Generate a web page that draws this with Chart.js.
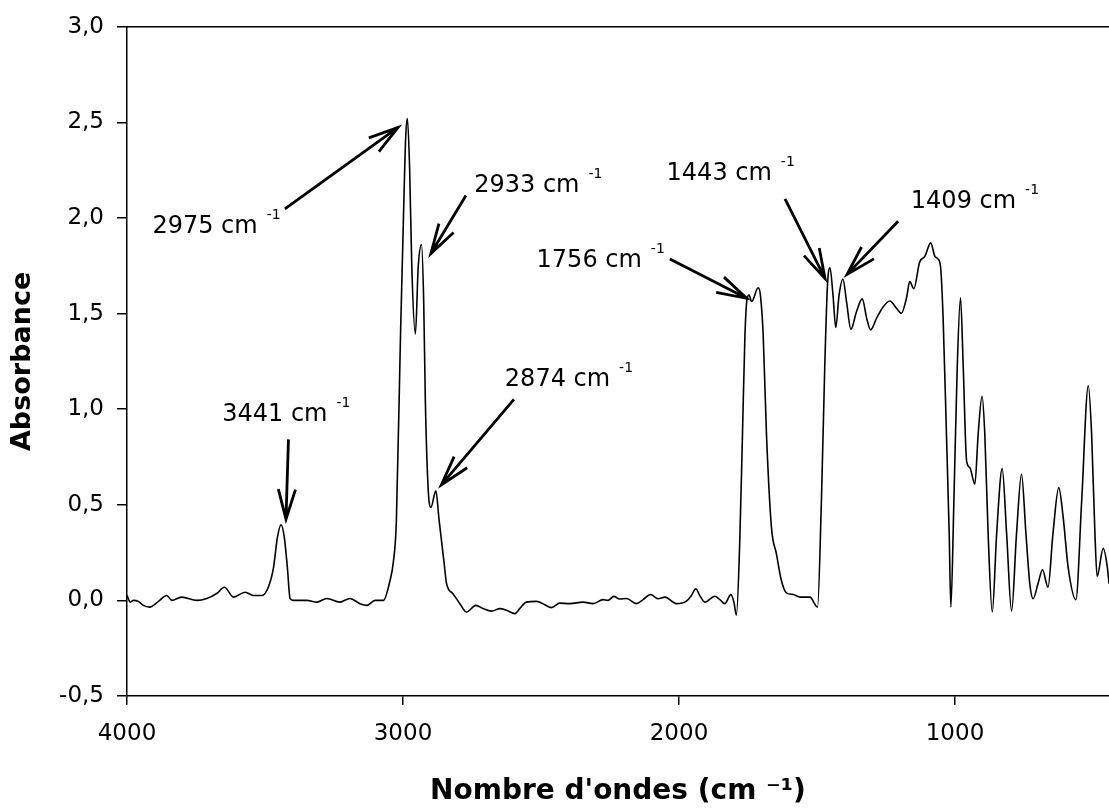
<!DOCTYPE html>
<html>
<head>
<meta charset="utf-8">
<title>Spectre IR</title>
<script src="https://cdn.jsdelivr.net/npm/chart.js@4.4.1/dist/chart.umd.min.js"></script>
<style>
    html, body { margin: 0; padding: 0; background: #fff; }
    #wrap { width: 1109px; height: 809px; }
</style>
</head>
<body>
<div id="wrap"><canvas id="spectre" width="1109" height="809"></canvas></div>
<script>
// Spectre IR : nombre d'ondes (cm-1) et absorbance
const wavenumbers = [
    4000, 3988, 3977, 3959, 3941, 3918, 3886, 3856, 3838,
    3802, 3747, 3711, 3675, 3647, 3614, 3572, 3542, 3511, 3488,
    3469, 3455, 3442, 3430, 3419, 3409, 3397, 3349, 3312, 3276,
    3229, 3192, 3156, 3131, 3101, 3071, 3047, 3035, 3024, 3009,
    2997, 2990, 2984, 2976, 2968, 2955, 2945, 2933, 2925, 2919,
    2909, 2899, 2881, 2869, 2852, 2842, 2819, 2794, 2770, 2736,
    2710, 2679, 2649, 2625, 2595, 2577, 2553, 2516, 2486, 2462,
    2432, 2396, 2348, 2311, 2275, 2257, 2236, 2215, 2190, 2154,
    2130, 2103, 2076, 2051, 2009, 1973, 1955, 1939, 1925, 1906,
    1870, 1852, 1834, 1812, 1801, 1792, 1780, 1770, 1761, 1753,
    1746, 1737, 1713, 1705, 1695, 1683, 1665, 1647, 1629, 1610,
    1586, 1562, 1526, 1498, 1484, 1472, 1462, 1453, 1442, 1432,
    1420, 1406, 1393, 1377, 1357, 1336, 1320, 1306, 1284, 1260,
    1236, 1212, 1194, 1176, 1164, 1149, 1128, 1109, 1088, 1073,
    1061, 1052, 1043, 1031, 1021, 1015, 1004, 992, 980, 970,
    958, 946, 928, 916, 902, 892, 880, 865, 849, 829,
    813, 795, 777, 759, 743, 729, 717, 699, 683, 663,
    645, 624, 608, 590, 562, 541, 517, 505, 493, 485,
    463, 448, 442
];
const absorbance = [
    0.026, -0.009, 0, -0.005, -0.026, -0.035, -0.005, 0.026, 0,
    0.017, 0, 0.010, 0.036, 0.069, 0.017, 0.043, 0.026, 0.026, 0.069,
    0.173, 0.330, 0.396, 0.330, 0.173, 0.009, 0, 0, -0.009, 0.010,
    -0.009, 0.010, -0.017, -0.026, 0, 0, 0.104, 0.20, 0.417, 1.39,
    2.08, 2.43, 2.52, 2.26, 1.74, 1.394, 1.74, 1.861, 1.563, 1.042,
    0.59, 0.486, 0.573, 0.417, 0.208, 0.087, 0.035, -0.017, -0.061, -0.026,
    -0.043, -0.056, -0.043, -0.052, -0.069, -0.043, -0.009, -0.005, -0.023, -0.038,
    -0.014, -0.017, -0.009, -0.017, 0.004, 0, 0.021, 0.007, 0.010, -0.017,
    0.004, 0.031, 0.009, 0.017, -0.017, -0.004, 0.026, 0.061, 0.026, -0.009,
    0.022, 0.004, -0.017, 0.030, -0.009, -0.078, 0.30, 0.868, 1.389, 1.580,
    1.597, 1.563, 1.635, 1.597, 1.389, 0.868, 0.382, 0.243, 0.104, 0.038,
    0.031, 0.017, 0.017, -0.035, 0.521, 1.215, 1.649, 1.740, 1.597, 1.427,
    1.597, 1.681, 1.563, 1.418, 1.510, 1.577, 1.476, 1.415, 1.476, 1.536,
    1.566, 1.528, 1.502, 1.580, 1.667, 1.63, 1.77, 1.80, 1.87, 1.80,
    1.785, 1.74, 1.475, 0.87, 0.35, -0.035, 0.52, 1.215, 1.583, 1.215,
    0.73, 0.694, 0.608, 0.87, 1.068, 0.87, 0.35, -0.061, 0.35, 0.689,
    0.35, -0.056, 0.35, 0.66, 0.35, 0.088, 0.009, 0.088, 0.16, 0.069,
    0.35, 0.59, 0.434, 0.173, 0.004, 0.52, 1.123, 0.87, 0.35, 0.125,
    0.272, 0.173, 0.088
];

// graduations
const xTicks = [4000, 3000, 2000, 1000];
const yTicks = [-0.5, 0, 0.5, 1.0, 1.5, 2.0, 2.5, 3.0];
const yTickLabels = ['-0,5', '0,0', '0,5', '1,0', '1,5', '2,0', '2,5', '3,0'];

// annotations des pics (texte + flèche), en unités des axes
const peakLabels = ['3441', '2975', '2933', '2874', '1756', '1443', '1409'];
const labelWn = [3655, 3908, 2742, 2631, 2516, 2045, 1160];
const labelAbs = [0.938, 1.923, 2.135, 1.120, 1.745, 2.198, 2.052];
const arrowFromWn = [3415, 3428, 2772, 2598, 2033, 1616, 1206];
const arrowFromAbs = [0.842, 2.048, 2.118, 1.051, 1.785, 2.100, 1.983];
const arrowToWn = [3424, 3018, 2899, 2861, 1755, 1471, 1391];
const arrowToAbs = [0.425, 2.474, 1.814, 0.604, 1.580, 1.684, 1.705];

Chart.defaults.font.family = "'DejaVu Sans', sans-serif";
Chart.defaults.color = '#000';

function drawArrow(ctx, x1, y1, x2, y2) {
    const ang = Math.atan2(y1 - y2, x1 - x2);
    const len = 31;
    const spread = 0.28;
    ctx.beginPath();
    ctx.moveTo(x1, y1);
    ctx.lineTo(x2, y2);
    ctx.moveTo(x2 + len * Math.cos(ang + spread), y2 + len * Math.sin(ang + spread));
    ctx.lineTo(x2, y2);
    ctx.lineTo(x2 + len * Math.cos(ang - spread), y2 + len * Math.sin(ang - spread));
    ctx.stroke();
}

// cadre du haut + étiquettes des pics
const peakAnnotations = {
    id: 'peakAnnotations',
    afterDatasetsDraw(chart) {
        const ctx = chart.ctx;
        const area = chart.chartArea;
        const xs = chart.scales.x;
        const ys = chart.scales.y;
        ctx.save();
        ctx.strokeStyle = '#000';
        ctx.lineWidth = 1.5;
        ctx.beginPath();
        ctx.moveTo(area.left, area.top);
        ctx.lineTo(area.right, area.top);
        ctx.stroke();

        ctx.fillStyle = '#000';
        ctx.textBaseline = 'alphabetic';
        ctx.textAlign = 'left';
        ctx.lineWidth = 2.8;
        ctx.lineJoin = 'miter';
        peakLabels.forEach((lbl, i) => {
            const tx = xs.getPixelForValue(labelWn[i]);
            const ty = ys.getPixelForValue(labelAbs[i]);
            const main = lbl + ' cm';
            ctx.font = "24px 'DejaVu Sans'";
            ctx.fillText(main, tx, ty);
            const w = ctx.measureText(main).width;
            ctx.font = "14px 'DejaVu Sans'";
            ctx.fillText('-1', tx + w + 9, ty - 14);

            drawArrow(ctx,
                xs.getPixelForValue(arrowFromWn[i]), ys.getPixelForValue(arrowFromAbs[i]),
                xs.getPixelForValue(arrowToWn[i]), ys.getPixelForValue(arrowToAbs[i]));
        });
        ctx.restore();
    }
};

new Chart(document.getElementById('spectre'), {
    type: 'line',
    data: {
        datasets: [{
            data: wavenumbers.map((wn, i) => ({ x: wn, y: absorbance[i] })),
            borderColor: '#000',
            borderWidth: 1.6,
            pointRadius: 0,
            fill: false,
            cubicInterpolationMode: 'monotone'
        }]
    },
    options: {
        responsive: false,
        animation: false,
        devicePixelRatio: 1,
        layout: { padding: { top: 24, right: 0, bottom: 0, left: 0 } },
        plugins: {
            legend: { display: false },
            tooltip: { enabled: false }
        },
        scales: {
            x: {
                type: 'linear',
                reverse: true,
                min: 442,
                max: 4000,
                afterFit(scale) { scale.height = 113; },
                afterBuildTicks(scale) { scale.ticks = xTicks.map(v => ({ value: v })); },
                ticks: {
                    font: { size: 23 },
                    color: '#000',
                    padding: 15,
                    maxRotation: 0,
                    callback: v => String(v)
                },
                grid: { drawOnChartArea: false, tickLength: 9, color: '#000', lineWidth: 1.5 },
                border: { color: '#000', width: 1.5 },
                title: {
                    display: true,
                    text: "Nombre d'ondes (cm ⁻¹)",
                    font: { size: 28, weight: 'bold' },
                    color: '#000',
                    padding: { top: 0, bottom: 0 }
                }
            },
            y: {
                min: -0.5,
                max: 3.0,
                afterFit(scale) { scale.width = 127; },
                afterBuildTicks(scale) { scale.ticks = yTicks.map(v => ({ value: v })); },
                ticks: {
                    font: { size: 23 },
                    color: '#000',
                    padding: 13,
                    callback: (v, i) => yTickLabels[i]
                },
                grid: { drawOnChartArea: false, tickLength: 10, color: '#000', lineWidth: 1.5 },
                border: { color: '#000', width: 1.5 },
                title: {
                    display: true,
                    text: 'Absorbance',
                    font: { size: 27, weight: 'bold' },
                    color: '#000',
                    padding: { top: 7, bottom: 0 }
                }
            }
        }
    },
    plugins: [peakAnnotations]
});
</script>
</body>
</html>
